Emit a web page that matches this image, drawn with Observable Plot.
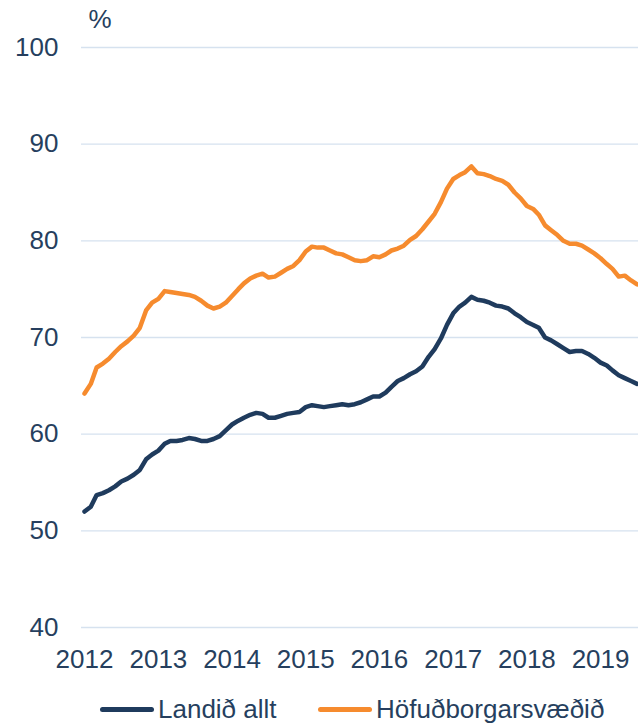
<!DOCTYPE html>
<html>
<head>
<meta charset="utf-8">
<script src="https://cdn.jsdelivr.net/npm/d3@7"></script>
<script src="https://cdn.jsdelivr.net/npm/@observablehq/plot@0.6"></script>
<style>
  html, body { margin: 0; padding: 0; background: #fff; }
  #wrap { position: relative; width: 638px; height: 723px; overflow: hidden; font-family: "Liberation Sans", Arial, sans-serif; color: #263f5e; }
  .sw { position: absolute; height: 5px; border-radius: 2.5px; }
  .lt { position: absolute; font-size: 26px; line-height: 26px; white-space: nowrap; }
</style>
</head>
<body>
<div id="wrap"></div>
<script>
// ---- data (monthly, Jan 2012 – Jul 2019) ----
const firstMonth = "2012-01-01";
const seriesNames = ["Landið allt", "Höfuðborgarsvæðið"];
const seriesColors = ["#1f3b5d", "#f68b2e"];
const landidAllt = [
  52.0, 52.5, 53.7, 53.9, 54.2, 54.6, 55.1, 55.4, 55.8, 56.3, 57.4, 57.9,
  58.3, 59.0, 59.3, 59.3, 59.4, 59.6, 59.5, 59.3, 59.3, 59.5, 59.8, 60.4,
  61.0, 61.4, 61.7, 62.0, 62.2, 62.1, 61.7, 61.7, 61.9, 62.1, 62.2, 62.3,
  62.8, 63.0, 62.9, 62.8, 62.9, 63.0, 63.1, 63.0, 63.1, 63.3, 63.6, 63.9,
  63.9, 64.3, 64.9, 65.5, 65.8, 66.2, 66.5, 67.0, 68.0, 68.8, 69.9, 71.3,
  72.5, 73.2, 73.6, 74.2, 73.9, 73.8, 73.6, 73.3, 73.2, 73.0, 72.5, 72.1,
  71.6, 71.3, 71.0, 70.0, 69.7, 69.3, 68.9, 68.5, 68.6, 68.6, 68.3, 67.9,
  67.4, 67.1, 66.6, 66.1, 65.8, 65.5, 65.2
];
const hofudborgarsvaedid = [
  64.2, 65.2, 66.9, 67.3, 67.8, 68.5, 69.1, 69.6, 70.2, 71.0, 72.8, 73.6,
  74.0, 74.8, 74.7, 74.6, 74.5, 74.4, 74.2, 73.8, 73.3, 73.0, 73.2, 73.6,
  74.3, 75.0, 75.6, 76.1, 76.4, 76.6, 76.2, 76.3, 76.7, 77.1, 77.4, 78.0,
  78.9, 79.4, 79.3, 79.3, 79.0, 78.7, 78.6, 78.3, 78.0, 77.9, 78.0, 78.4,
  78.3, 78.6, 79.0, 79.2, 79.5, 80.1, 80.5, 81.2, 82.0, 82.8, 84.0, 85.4,
  86.4, 86.8, 87.1, 87.7, 87.0, 86.9, 86.7, 86.4, 86.2, 85.8, 85.0, 84.4,
  83.6, 83.3, 82.7, 81.6, 81.1, 80.6, 80.0, 79.7, 79.7, 79.5, 79.1, 78.7,
  78.2, 77.6, 77.1, 76.3, 76.4, 75.9, 75.5
];
const yTicks = [40, 50, 60, 70, 80, 90, 100];
const yUnit = "%";

// ---- table built from the arrays ----
const start = new Date(firstMonth);
const rows = [];
[landidAllt, hofudborgarsvaedid].forEach((vals, s) => {
  vals.forEach((v, i) => rows.push({date: d3.utcMonth.offset(start, i), value: v, series: seriesNames[s]}));
});

const textColor = "#263f5e";
const chart = Plot.plot({
  width: 638,
  height: 680,
  marginLeft: 81,
  marginRight: 0,
  marginTop: 47,
  marginBottom: 53,
  style: {fontFamily: "'Liberation Sans', Arial, sans-serif", color: textColor, background: "#fff", overflow: "hidden"},
  x: {type: "utc", domain: [new Date("2011-12-17"), new Date("2019-07-08")]},
  y: {domain: [40, 100]},
  color: {domain: seriesNames, range: seriesColors},
  marks: [
    Plot.gridY(yTicks, {stroke: "#d6e2ef", strokeOpacity: 1, strokeWidth: 1.3}),
    Plot.axisY(yTicks, {tickSize: 0, tickPadding: 23, fontSize: 26, label: null, fill: textColor}),
    Plot.axisX({ticks: d3.utcYear.every(1), tickFormat: d3.utcFormat("%Y"), tickSize: 0, tickPadding: 22, fontSize: 26, label: null, fill: textColor}),
    Plot.line(rows, {x: "date", y: "value", z: "series", stroke: "series", strokeWidth: 4.5, strokeLinejoin: "round", strokeLinecap: "round"}),
    Plot.text([yUnit], {frameAnchor: "top-left", textAnchor: "start", lineAnchor: "middle", dx: 7, dy: -28, fontSize: 26, fill: textColor})
  ]
});
const wrap = document.getElementById("wrap");
wrap.appendChild(chart);

// ---- legend below the SVG ----
const legendPos = [{sw: 100, tx: 158}, {sw: 318, tx: 376}];
seriesNames.forEach((name, i) => {
  const sw = document.createElement("div");
  sw.className = "sw";
  sw.style.left = legendPos[i].sw + "px";
  sw.style.width = "54px";
  sw.style.top = "707px";
  sw.style.background = seriesColors[i];
  wrap.appendChild(sw);
  const t = document.createElement("div");
  t.className = "lt";
  t.style.left = legendPos[i].tx + "px";
  t.style.top = "696px";
  t.textContent = name;
  wrap.appendChild(t);
});
</script>
</body>
</html>
